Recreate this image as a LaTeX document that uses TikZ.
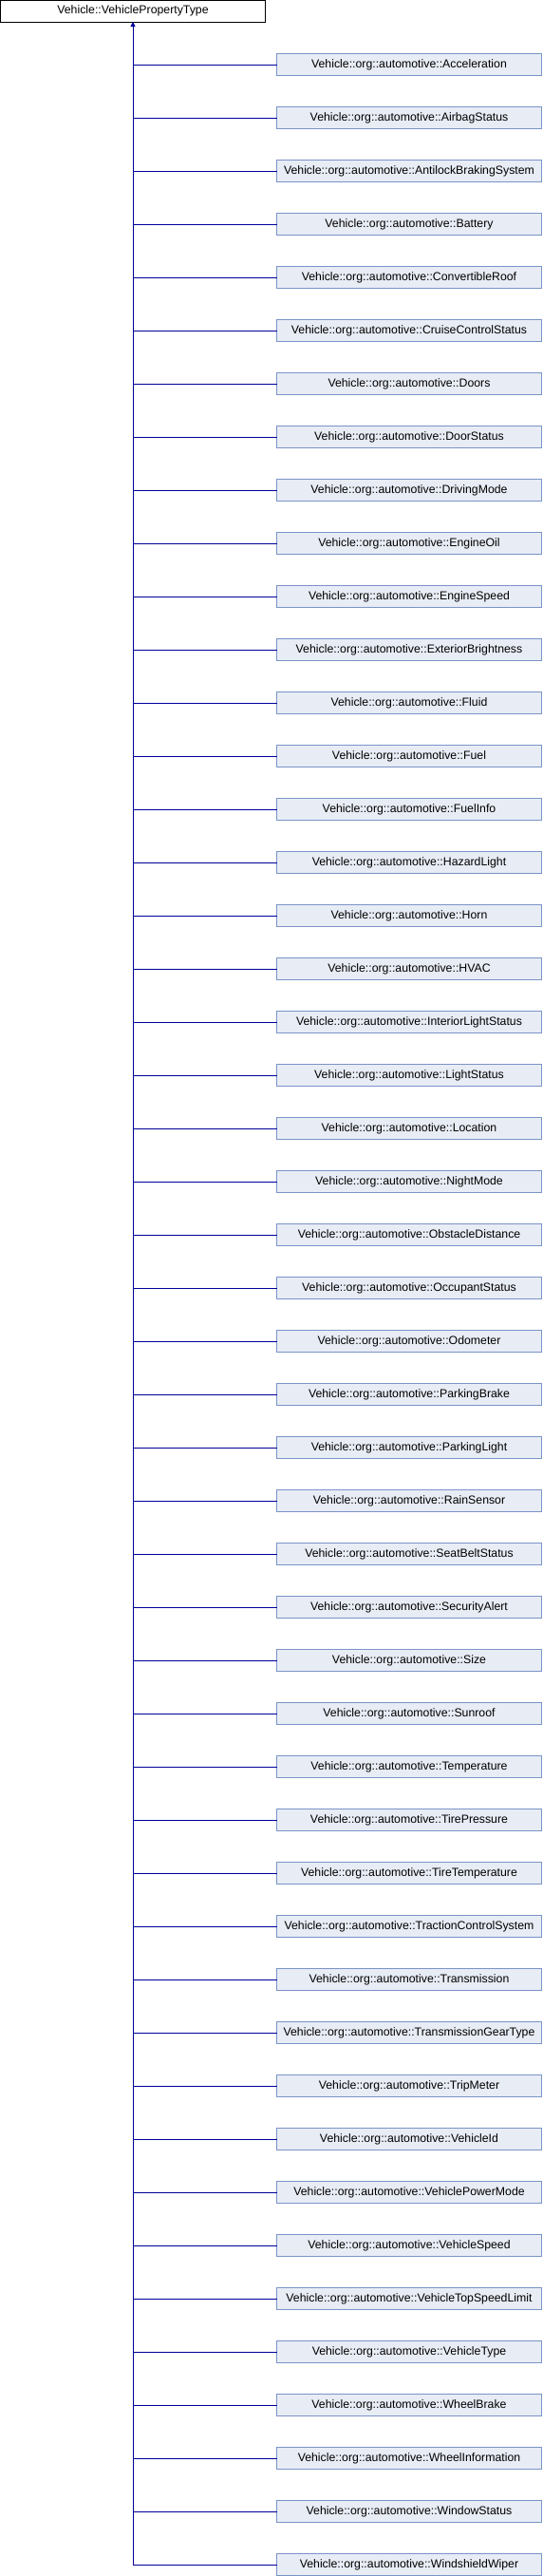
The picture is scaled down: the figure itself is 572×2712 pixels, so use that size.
\documentclass[tikz,border=0pt]{standalone}
\usepackage{fontspec}
\setmainfont{Liberation Sans}
\usetikzlibrary{arrows.meta, positioning}
\definecolor{DxLine}{HTML}{000099}
\definecolor{DxFill}{HTML}{E8ECF5}
\definecolor{DxBorder}{HTML}{7A94C8}

\begin{document}
\begin{tikzpicture}[
        x=1pt, y=1pt,
        node distance=33pt,
        every node/.style={font=\fontsize{12.3}{14}\selectfont},
        base/.style={rectangle, draw=black, fill=white, line width=1pt, minimum width=279pt, minimum height=23pt, inner sep=0pt, outer sep=0pt},
        child/.style={base, draw=DxBorder, fill=DxFill},
        link/.style={line width=1pt, DxLine},
        inherit/.style={link, -{Triangle[length=5pt, width=5pt]}}
    ]
        \useasboundingbox (0,0) rectangle (572,-2712);
        \fill[white] (0,0) rectangle (572,-2712);

        \node[base] (vpt) at (140,-11.5) {Vehicle::VehiclePropertyType};

        \node[child] (acc) at (431,-68) {Vehicle::org::automotive::Acceleration};
        \node[child, below=of acc] (airbag) {Vehicle::org::automotive::AirbagStatus};
        \node[child, below=of airbag] (abs) {Vehicle::org::automotive::AntilockBrakingSystem};
        \node[child, below=of abs] (battery) {Vehicle::org::automotive::Battery};
        \node[child, below=of battery] (roof) {Vehicle::org::automotive::ConvertibleRoof};
        \node[child, below=of roof] (cruise) {Vehicle::org::automotive::CruiseControlStatus};
        \node[child, below=of cruise] (doors) {Vehicle::org::automotive::Doors};
        \node[child, below=of doors] (doorst) {Vehicle::org::automotive::DoorStatus};
        \node[child, below=of doorst] (drive) {Vehicle::org::automotive::DrivingMode};
        \node[child, below=of drive] (oil) {Vehicle::org::automotive::EngineOil};
        \node[child, below=of oil] (espeed) {Vehicle::org::automotive::EngineSpeed};
        \node[child, below=of espeed] (bright) {Vehicle::org::automotive::ExteriorBrightness};
        \node[child, below=of bright] (fluid) {Vehicle::org::automotive::Fluid};
        \node[child, below=of fluid] (fuel) {Vehicle::org::automotive::Fuel};
        \node[child, below=of fuel] (fuelinfo) {Vehicle::org::automotive::FuelInfo};
        \node[child, below=of fuelinfo] (hazard) {Vehicle::org::automotive::HazardLight};
        \node[child, below=of hazard] (horn) {Vehicle::org::automotive::Horn};
        \node[child, below=of horn] (hvac) {Vehicle::org::automotive::HVAC};
        \node[child, below=of hvac] (intlight) {Vehicle::org::automotive::InteriorLightStatus};
        \node[child, below=of intlight] (light) {Vehicle::org::automotive::LightStatus};
        \node[child, below=of light] (loc) {Vehicle::org::automotive::Location};
        \node[child, below=of loc] (night) {Vehicle::org::automotive::NightMode};
        \node[child, below=of night] (obst) {Vehicle::org::automotive::ObstacleDistance};
        \node[child, below=of obst] (occ) {Vehicle::org::automotive::OccupantStatus};
        \node[child, below=of occ] (odo) {Vehicle::org::automotive::Odometer};
        \node[child, below=of odo] (pbrake) {Vehicle::org::automotive::ParkingBrake};
        \node[child, below=of pbrake] (plight) {Vehicle::org::automotive::ParkingLight};
        \node[child, below=of plight] (rain) {Vehicle::org::automotive::RainSensor};
        \node[child, below=of rain] (belt) {Vehicle::org::automotive::SeatBeltStatus};
        \node[child, below=of belt] (alert) {Vehicle::org::automotive::SecurityAlert};
        \node[child, below=of alert] (size) {Vehicle::org::automotive::Size};
        \node[child, below=of size] (sunroof) {Vehicle::org::automotive::Sunroof};
        \node[child, below=of sunroof] (temp) {Vehicle::org::automotive::Temperature};
        \node[child, below=of temp] (tpress) {Vehicle::org::automotive::TirePressure};
        \node[child, below=of tpress] (ttemp) {Vehicle::org::automotive::TireTemperature};
        \node[child, below=of ttemp] (tcs) {Vehicle::org::automotive::TractionControlSystem};
        \node[child, below=of tcs] (trans) {Vehicle::org::automotive::Transmission};
        \node[child, below=of trans] (gear) {Vehicle::org::automotive::TransmissionGearType};
        \node[child, below=of gear] (trip) {Vehicle::org::automotive::TripMeter};
        \node[child, below=of trip] (vid) {Vehicle::org::automotive::VehicleId};
        \node[child, below=of vid] (power) {Vehicle::org::automotive::VehiclePowerMode};
        \node[child, below=of power] (vspeed) {Vehicle::org::automotive::VehicleSpeed};
        \node[child, below=of vspeed] (limit) {Vehicle::org::automotive::VehicleTopSpeedLimit};
        \node[child, below=of limit] (vtype) {Vehicle::org::automotive::VehicleType};
        \node[child, below=of vtype] (wbrake) {Vehicle::org::automotive::WheelBrake};
        \node[child, below=of wbrake] (winfo) {Vehicle::org::automotive::WheelInformation};
        \node[child, below=of winfo] (window) {Vehicle::org::automotive::WindowStatus};
        \node[child, below=of window] (wiper) {Vehicle::org::automotive::WindshieldWiper};

        % trunk up to the base class
        \coordinate (trunk) at (vpt.south |- wiper.west);
        \draw[inherit] (trunk) -- (vpt.south);

        \draw[link] (acc.west) -- (acc.west -| vpt.south);
        \draw[link] (airbag.west) -- (airbag.west -| vpt.south);
        \draw[link] (abs.west) -- (abs.west -| vpt.south);
        \draw[link] (battery.west) -- (battery.west -| vpt.south);
        \draw[link] (roof.west) -- (roof.west -| vpt.south);
        \draw[link] (cruise.west) -- (cruise.west -| vpt.south);
        \draw[link] (doors.west) -- (doors.west -| vpt.south);
        \draw[link] (doorst.west) -- (doorst.west -| vpt.south);
        \draw[link] (drive.west) -- (drive.west -| vpt.south);
        \draw[link] (oil.west) -- (oil.west -| vpt.south);
        \draw[link] (espeed.west) -- (espeed.west -| vpt.south);
        \draw[link] (bright.west) -- (bright.west -| vpt.south);
        \draw[link] (fluid.west) -- (fluid.west -| vpt.south);
        \draw[link] (fuel.west) -- (fuel.west -| vpt.south);
        \draw[link] (fuelinfo.west) -- (fuelinfo.west -| vpt.south);
        \draw[link] (hazard.west) -- (hazard.west -| vpt.south);
        \draw[link] (horn.west) -- (horn.west -| vpt.south);
        \draw[link] (hvac.west) -- (hvac.west -| vpt.south);
        \draw[link] (intlight.west) -- (intlight.west -| vpt.south);
        \draw[link] (light.west) -- (light.west -| vpt.south);
        \draw[link] (loc.west) -- (loc.west -| vpt.south);
        \draw[link] (night.west) -- (night.west -| vpt.south);
        \draw[link] (obst.west) -- (obst.west -| vpt.south);
        \draw[link] (occ.west) -- (occ.west -| vpt.south);
        \draw[link] (odo.west) -- (odo.west -| vpt.south);
        \draw[link] (pbrake.west) -- (pbrake.west -| vpt.south);
        \draw[link] (plight.west) -- (plight.west -| vpt.south);
        \draw[link] (rain.west) -- (rain.west -| vpt.south);
        \draw[link] (belt.west) -- (belt.west -| vpt.south);
        \draw[link] (alert.west) -- (alert.west -| vpt.south);
        \draw[link] (size.west) -- (size.west -| vpt.south);
        \draw[link] (sunroof.west) -- (sunroof.west -| vpt.south);
        \draw[link] (temp.west) -- (temp.west -| vpt.south);
        \draw[link] (tpress.west) -- (tpress.west -| vpt.south);
        \draw[link] (ttemp.west) -- (ttemp.west -| vpt.south);
        \draw[link] (tcs.west) -- (tcs.west -| vpt.south);
        \draw[link] (trans.west) -- (trans.west -| vpt.south);
        \draw[link] (gear.west) -- (gear.west -| vpt.south);
        \draw[link] (trip.west) -- (trip.west -| vpt.south);
        \draw[link] (vid.west) -- (vid.west -| vpt.south);
        \draw[link] (power.west) -- (power.west -| vpt.south);
        \draw[link] (vspeed.west) -- (vspeed.west -| vpt.south);
        \draw[link] (limit.west) -- (limit.west -| vpt.south);
        \draw[link] (vtype.west) -- (vtype.west -| vpt.south);
        \draw[link] (wbrake.west) -- (wbrake.west -| vpt.south);
        \draw[link] (winfo.west) -- (winfo.west -| vpt.south);
        \draw[link] (window.west) -- (window.west -| vpt.south);
        \draw[link] (wiper.west) -- (wiper.west -| vpt.south);
    \end{tikzpicture}
\end{document}
